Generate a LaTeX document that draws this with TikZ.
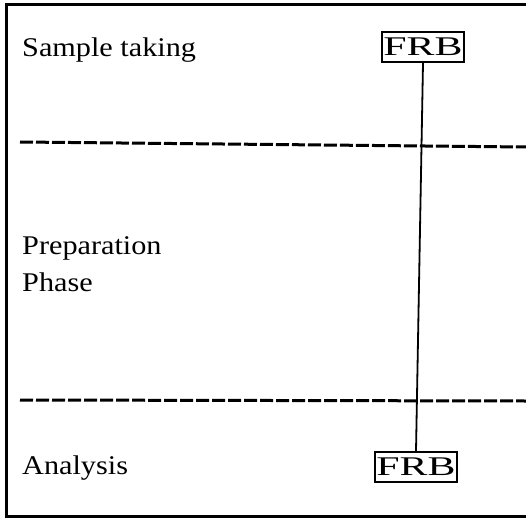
\documentclass[tikz,border=0pt]{standalone}
\usepackage{fontspec}
\setmainfont{Liberation Serif}
\newfontfamily\widefont[FakeStretch=1.12]{Liberation Serif}
\newfontfamily\boxfont[FakeStretch=1.55]{Liberation Serif}
\begin{document}
\begin{tikzpicture}[x=1pt,y=-1pt,
  lbl/.style={anchor=base west,font=\widefont\fontsize{27}{32}\selectfont,inner sep=0pt},
  frb/.style={draw,line width=2pt,minimum width=82pt,minimum height=30pt,inner sep=0pt,font=\boxfont\fontsize{27}{32}\selectfont},
  sep/.style={line width=3pt,dash pattern=on 13pt off 3pt},
  frame/.style={line width=3pt}]
\useasboundingbox (0,0) rectangle (526,526);
\draw[frame] (526,5) -- (6,5) -- (6,516) -- (526,516);
\node[lbl] (s) at (22,57) {Sample taking};
\node[lbl] (p1) at (22,254) {Preparation};
\node[lbl] (p2) at (22,291) {Phase};
\node[lbl] (a) at (22,474) {Analysis};
\node[frb] (f1) at (423,47) {FRB};
\node[frb] (f2) at (416,467) {FRB};
\coordinate (d1a) at (20,142);
\coordinate (d1b) at (526,147);
\coordinate (d2a) at (20,400);
\coordinate (d2b) at (526,401);
\draw[sep] (d1a) -- (d1b);
\draw[sep] (d2a) -- (d2b);
\draw[line width=1.8pt] (f1.south) -- (f2.north);
\end{tikzpicture}
\end{document}
